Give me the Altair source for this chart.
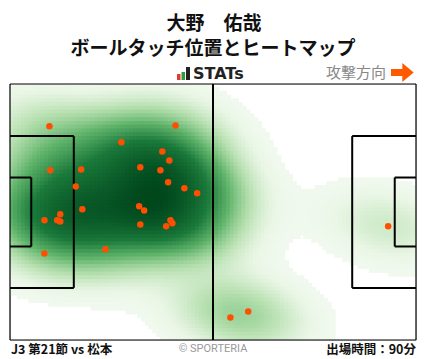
import numpy as np
import pandas as pd
import altair as alt

# ---- data (metres, pitch 105 x 68, y measured from top) ----
touch_x = [10.2, 42.8, 28.8, 39.4, 41.2, 10.4, 18.4, 33.7, 38.9, 40.9, 17.0, 45.1, 48.4,
           33.4, 34.7, 18.7, 13.0, 8.9, 12.2, 13.0, 41.5, 42.0, 33.7, 40.4, 8.9, 24.7,
           97.8, 57.0, 61.6]
touch_y = [11.2, 11.0, 15.5, 17.9, 20.3, 22.9, 22.7, 22.1, 22.9, 26.1, 27.2, 27.7, 29.0,
           32.5, 33.6, 33.3, 34.6, 36.2, 36.2, 36.5, 36.2, 37.0, 37.3, 37.8, 45.0, 43.9,
           37.8, 62.0, 60.4]

title_lines = ["大野　佑哉", "ボールタッチ位置とヒートマップ"]
footer_left = ["J3 第21節 vs 松本"]
footer_mid = ["© SPORTERIA"]
footer_right = ["出場時間：90分"]
direction_label = ["攻撃方向"]
logo_label = ["STATs"]

PITCH_L, PITCH_W = 105.0, 68.0
pitch_segments = [
    (0, 0, 105, 0, 1.2), (105, 0, 105, 68, 1.2), (105, 68, 0, 68, 1.2), (0, 68, 0, 0, 1.2),
    (52.5, 0, 52.5, 68, 2),
    (0, 13.84, 16.5, 13.84, 2), (16.5, 13.84, 16.5, 54.16, 2), (16.5, 54.16, 0, 54.16, 2),
    (0, 24.84, 5.5, 24.84, 2), (5.5, 24.84, 5.5, 43.16, 2), (5.5, 43.16, 0, 43.16, 2),
    (105, 13.84, 88.5, 13.84, 2), (88.5, 13.84, 88.5, 54.16, 2), (88.5, 54.16, 105, 54.16, 2),
    (105, 24.84, 99.5, 24.84, 2), (99.5, 24.84, 99.5, 43.16, 2), (99.5, 43.16, 105, 43.16, 2),
]

# heat colour stops (relative density -> colour)
heat_stops = [0.0, 0.06, 0.18, 0.36, 0.6, 1.0]
heat_colors = ["#f5fbf3", "#eaf6e6", "#b5dfae", "#5fb36a", "#1b7a3b", "#00471c"]
heat_threshold = 0.02

# ---- kernel density of the touches ----
pts = np.column_stack([touch_x, touch_y])
n = len(pts)
factor = n ** (-1.0 / 6.0)
cov = np.cov(pts.T) * factor ** 2
inv = np.linalg.inv(cov)
step = 1.0
pad = 0.18
gx = np.arange(step / 2, PITCH_L, step)
gy = np.arange(step / 2, PITCH_W, step)
GX, GY = np.meshgrid(gx, gy)
grid = np.column_stack([GX.ravel(), GY.ravel()])
d = grid[:, None, :] - pts[None, :, :]
m = np.einsum("gni,ij,gnj->gn", d, inv, d)
dens = np.exp(-0.5 * m).sum(axis=1)
dens = dens / dens.max()
heat = pd.DataFrame({"x": np.clip(grid[:, 0] - step / 2 - pad, 0, PITCH_L),
                     "x2": np.clip(grid[:, 0] + step / 2 + pad, 0, PITCH_L),
                     "y": np.clip(grid[:, 1] - step / 2 - pad, 0, PITCH_W),
                     "y2": np.clip(grid[:, 1] + step / 2 + pad, 0, PITCH_W),
                     "d": dens})
heat = heat[heat["d"] > heat_threshold]

W, H = 406, 256
xs = alt.Scale(domain=[0, PITCH_L], nice=False, zero=False)
ys = alt.Scale(domain=[0, PITCH_W], nice=False, zero=False, reverse=True)

heat_layer = alt.Chart(heat).mark_rect(strokeWidth=0).encode(
    x=alt.X("x:Q", scale=xs, axis=None), x2="x2:Q",
    y=alt.Y("y:Q", scale=ys, axis=None), y2="y2:Q",
    color=alt.Color("d:Q", scale=alt.Scale(domain=heat_stops, range=heat_colors,
                                           interpolate="rgb"), legend=None),
)

seg = pd.DataFrame(pitch_segments, columns=["x", "y", "x2", "y2", "w"])
lines = alt.Chart(seg).mark_rule(color="black").encode(
    x=alt.X("x:Q", scale=xs, axis=None), x2="x2:Q",
    y=alt.Y("y:Q", scale=ys, axis=None), y2="y2:Q",
    strokeWidth=alt.StrokeWidth("w:Q", scale=None, legend=None),
)

touches = alt.Chart(pd.DataFrame({"x": touch_x, "y": touch_y})).mark_circle(
    size=42, color="#ff4e00", opacity=1).encode(
    x=alt.X("x:Q", scale=xs, axis=None), y=alt.Y("y:Q", scale=ys, axis=None))

CJK = "Noto Sans CJK JP"


def txt(values, x, y, **kw):
    return alt.Chart(pd.DataFrame({"t": values})).mark_text(**kw).encode(
        text="t:N", x=alt.value(x), y=alt.value(y))


t1 = txt(title_lines[:1], 204, -60, font=CJK, fontSize=19, fontWeight="bold",
         align="center", baseline="middle", color="#111")
t2 = txt(title_lines[1:], 203, -35, font=CJK, fontSize=19, fontWeight="bold",
         align="center", baseline="middle", color="#111")
logo_t = txt(logo_label, 183, -10, font="DejaVu Sans", fontSize=16, fontWeight="bold",
             align="left", baseline="middle", color="#222")
dir_t = txt(direction_label, 316, -11, font=CJK, fontSize=15, align="left",
            baseline="middle", color="#888888")
f1 = txt(footer_left, 1, 266, font=CJK, fontSize=12.5, fontWeight="bold", align="left",
         baseline="middle", color="#111")
f2 = txt(footer_mid, 203, 265, font="Roboto", fontSize=11, align="center",
         baseline="middle", color="#999999")
f3 = txt(footer_right, 406, 266, font=CJK, fontSize=12.5, fontWeight="bold", align="right",
         baseline="middle", color="#111")

one = pd.DataFrame({"k": [0]})
bars = alt.layer(
    alt.Chart(one).mark_rect(color="#e53935").encode(x=alt.value(167), x2=alt.value(170.5), y=alt.value(-10), y2=alt.value(-4)),
    alt.Chart(one).mark_rect(color="#2e9e3a").encode(x=alt.value(171.5), x2=alt.value(175), y=alt.value(-12), y2=alt.value(-4)),
    alt.Chart(one).mark_rect(color="#222222").encode(x=alt.value(176), x2=alt.value(180), y=alt.value(-17), y2=alt.value(-4)),
)
arrow = alt.layer(
    alt.Chart(one).mark_rect(color="#ff5a00").encode(x=alt.value(381), x2=alt.value(394), y=alt.value(-15), y2=alt.value(-8)),
    alt.Chart(one).mark_point(shape="M-0.6,-1L0.6,0L-0.6,1Z", filled=True, size=361, color="#ff5a00",
                              opacity=1).encode(x=alt.value(398), y=alt.value(-11.5)),
)

chart = alt.layer(heat_layer, lines, touches, t1, t2, bars, logo_t, dir_t, arrow, f1, f2, f3).properties(
    width=W, height=H,
    autosize=alt.AutoSizeParams(type="none"),
    padding={"left": 2, "top": 76, "right": 4, "bottom": 17},
).configure_view(stroke=None).configure(background="white")

chart.save("out.html", embed_options={"renderer": "svg", "actions": False})
